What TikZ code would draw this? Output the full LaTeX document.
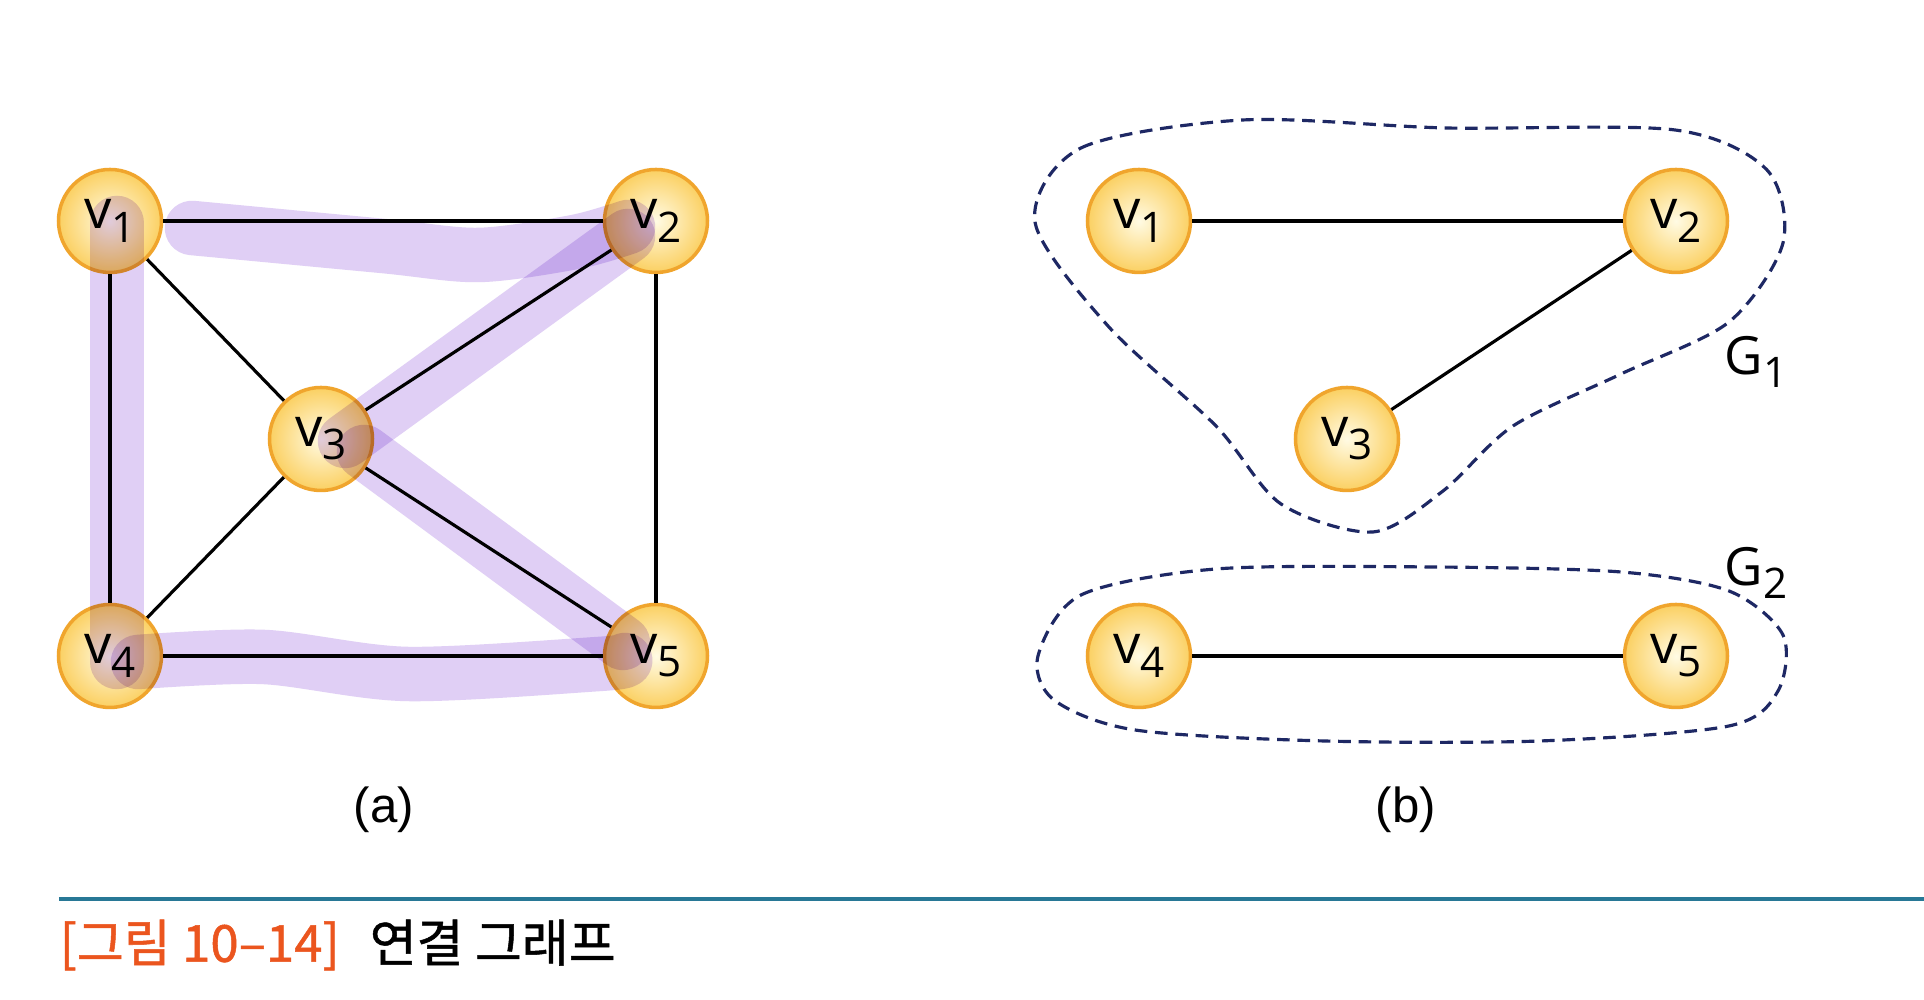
\documentclass[tikz,border=0pt]{standalone}
\usepackage{fontspec}
\setsansfont{Open Sans}
\newfontfamily\capfont{Liberation Sans}
\newfontfamily\krfont[FakeBold=1]{Noto Sans CJK KR}
\definecolor{nodeedge}{RGB}{240,165,45}
\definecolor{nodein}{RGB}{255,251,228}
\definecolor{nodeout}{RGB}{251,208,98}
\definecolor{pathband}{RGB}{224,207,245}
\definecolor{groupline}{RGB}{30,40,100}
\definecolor{rulecol}{RGB}{40,120,150}
\definecolor{capcol}{RGB}{235,85,30}
\newcommand\vsub[2]{#1\raisebox{-0.45ex}{\fontsize{12}{14}\selectfont #2}}

\begin{document}
\begin{tikzpicture}[
	vertex/.style={circle,draw=nodeedge,line width=1pt,minimum size=1.03cm,inner sep=0pt,
		inner color=nodein,outer color=nodeout,font=\sffamily\fontsize{15.5}{18}\selectfont},
	edge/.style={line width=0.9pt},
	band/.style={draw=pathband,line width=15.5pt,line cap=round,line join=round},
	group/.style={draw=groupline,line width=0.9pt,dash pattern=on 3.6pt off 2.2pt},
	glabel/.style={font=\sffamily\fontsize{15}{18}\selectfont}]
		\useasboundingbox[fill=white] (0,0) rectangle (19.24,10);
		
		% (a)
		\node[vertex] (a1) at (1.10,7.79) {\vsub{v}{1}};
		\node[vertex] (a2) at (6.56,7.79) {\vsub{v}{2}};
		\node[vertex] (a3) at (3.21,5.61) {\vsub{v}{3}};
		\node[vertex] (a4) at (1.10,3.44) {\vsub{v}{4}};
		\node[vertex] (a5) at (6.56,3.44) {\vsub{v}{5}};
		
		\begin{scope}[blend mode=multiply]
		\draw[band] plot[smooth] coordinates {(1.92,7.72) (3.83,7.54) (4.79,7.45) (5.75,7.58) (6.28,7.73)};
		\draw[band] (1.17,7.77) -- (1.17,3.38);
		\draw[band] (6.28,7.64) -- (3.45,5.59);
		\draw[band] (3.64,5.48) -- (6.23,3.57);
		\draw[band] plot[smooth] coordinates {(1.38,3.38) (2.64,3.43) (4.07,3.26) (5.99,3.36) (6.25,3.40)};
		\end{scope}
		
		\draw[edge] (a1) -- (a2);
		\draw[edge] (a1) -- (a4);
		\draw[edge] (a1) -- (a3);
		\draw[edge] (a2) -- (a3);
		\draw[edge] (a2) -- (a5);
		\draw[edge] (a3) -- (a4);
		\draw[edge] (a3) -- (a5);
		\draw[edge] (a4) -- (a5);
		
		% (b)
		\node[vertex] (b1) at (11.39,7.79) {\vsub{v}{1}};
		\node[vertex] (b2) at (16.76,7.79) {\vsub{v}{2}};
		\node[vertex] (b3) at (13.47,5.61) {\vsub{v}{3}};
		\node[vertex] (b4) at (11.39,3.44) {\vsub{v}{4}};
		\node[vertex] (b5) at (16.76,3.44) {\vsub{v}{5}};
		\draw[edge] (b1) -- (b2);
		\draw[edge] (b2) -- (b3);
		\draw[edge] (b4) -- (b5);
		
		\draw[group] plot[smooth cycle] coordinates {(10.35,7.78) (10.81,8.52) (12.43,8.80) (14.46,8.72)
			(16.75,8.70) (17.67,8.30) (17.83,7.57) (17.29,6.78) (16.21,6.26) (15.13,5.74) (14.43,5.09)
			(13.73,4.68) (12.81,4.96) (12.16,5.74) (11.08,6.74)};
		\draw[group] plot[smooth cycle] coordinates {(10.38,3.44) (10.81,4.05) (12.16,4.31) (14.32,4.33)
			(16.21,4.28) (17.29,4.09) (17.83,3.65) (17.78,3.09) (17.29,2.74) (15.40,2.59) (13.24,2.59)
			(11.35,2.70) (10.54,3.00)};
		\node[glabel] (g1) at (17.56,6.38) {\vsub{G}{1}};
		\node[glabel] (g2) at (17.56,4.27) {\vsub{G}{2}};
		
		% captions
		\node[font=\capfont\fontsize{14}{17}\selectfont] (capa) at (3.84,1.90) {(a)};
		\node[font=\capfont\fontsize{14}{17}\selectfont] (capb) at (14.06,1.90) {(b)};
		\draw[rulecol,line width=1.3pt] (0.59,1.01) -- (19.24,1.01);
		\node[anchor=west,inner sep=0pt,font=\krfont\fontsize{14.5}{17}\selectfont] (title) at (0.59,0.55)
			{\textcolor{capcol}{[그림 10–14]}\hspace{0.3cm}연결 그래프};
\end{tikzpicture}
\end{document}
